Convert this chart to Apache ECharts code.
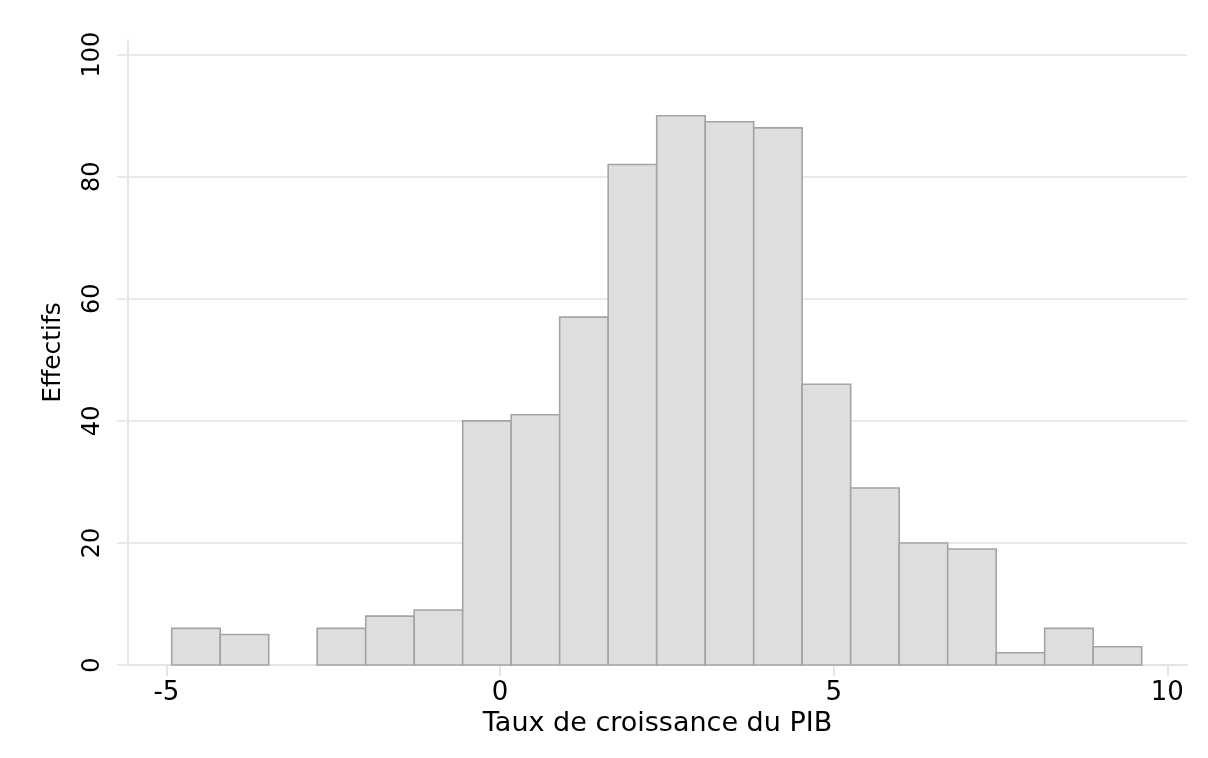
<!DOCTYPE html>
<html>
<head>
<meta charset="utf-8">
<script src="https://cdn.jsdelivr.net/npm/echarts@6/dist/echarts.min.js"></script>
<style>
html,body{margin:0;padding:0;background:#fff;}
#chart{width:1208px;height:758px;}
</style>
</head>
<body>
<div id="chart"></div>
<script>
// Bin edges (growth rate, %) and counts
const binEdges = [-4.920, -4.193, -3.466, -2.740, -2.013, -1.286, -0.559, 0.168, 0.894, 1.621,
                  2.348, 3.075, 3.802, 4.528, 5.255, 5.982, 6.709, 7.436, 8.162, 8.889, 9.616];
const counts = [6, 5, 0, 6, 8, 9, 40, 41, 57, 82, 90, 89, 88, 46, 29, 20, 19, 2, 6, 3];
const xTicks = [-5, 0, 5, 10];
const yTicks = [0, 20, 40, 60, 80, 100];
const xTitle = 'Taux de croissance du PIB';
const yTitle = 'Effectifs';

const data = counts.map((c, i) => [binEdges[i], binEdges[i + 1], c]);

const FONT = 'DejaVu Sans';
const chart = echarts.init(document.getElementById('chart'), null, {renderer: 'canvas'});
chart.setOption({
  animation: false,
  backgroundColor: '#ffffff',
  grid: {left: 128, right: 21, top: 40, bottom: 93, containLabel: false},
  xAxis: {
    type: 'value',
    min: -5.575, max: 10.295,
    name: xTitle, nameLocation: 'middle', nameGap: 41,
    nameTextStyle: {fontFamily: FONT, fontSize: 27, color: '#000'},
    axisLine: {show: true, onZero: false, lineStyle: {color: '#e2e4e8', width: 2}},
    axisTick: {show: true, length: 11, customValues: xTicks, lineStyle: {color: '#e2e4e8', width: 2}},
    axisLabel: {customValues: xTicks, margin: 15, fontFamily: FONT, fontSize: 26, color: '#000'},
    splitLine: {show: false}
  },
  yAxis: {
    type: 'value',
    min: 0, max: 102.4,
    name: yTitle, nameLocation: 'middle', nameGap: 62, nameRotate: 90,
    nameTextStyle: {fontFamily: FONT, fontSize: 25, color: '#000'},
    axisLine: {show: true, onZero: false, lineStyle: {color: '#e2e4e8', width: 2}},
    axisTick: {show: true, length: 11, customValues: yTicks, lineStyle: {color: '#e6eaf0', width: 2}},
    axisLabel: {customValues: yTicks, rotate: 90, margin: 23, fontFamily: FONT, fontSize: 24, color: '#000'},
    splitLine: {show: true, lineStyle: {color: '#e6eaf0', width: 2}}
  },
  series: [{
    type: 'custom',
    data: data,
    encode: {x: [0, 1], y: 2},
    renderItem: function (params, api) {
      if (!(api.value(2) > 0)) return null;
      const p0 = api.coord([api.value(0), api.value(2)]);
      const p1 = api.coord([api.value(1), 0]);
      return {
        type: 'rect',
        shape: {x: p0[0], y: p0[1], width: p1[0] - p0[0], height: p1[1] - p0[1]},
        style: {fill: '#dedede', stroke: '#a4a4a4', lineWidth: 1.6}
      };
    }
  }]
});
</script>
</body>
</html>
